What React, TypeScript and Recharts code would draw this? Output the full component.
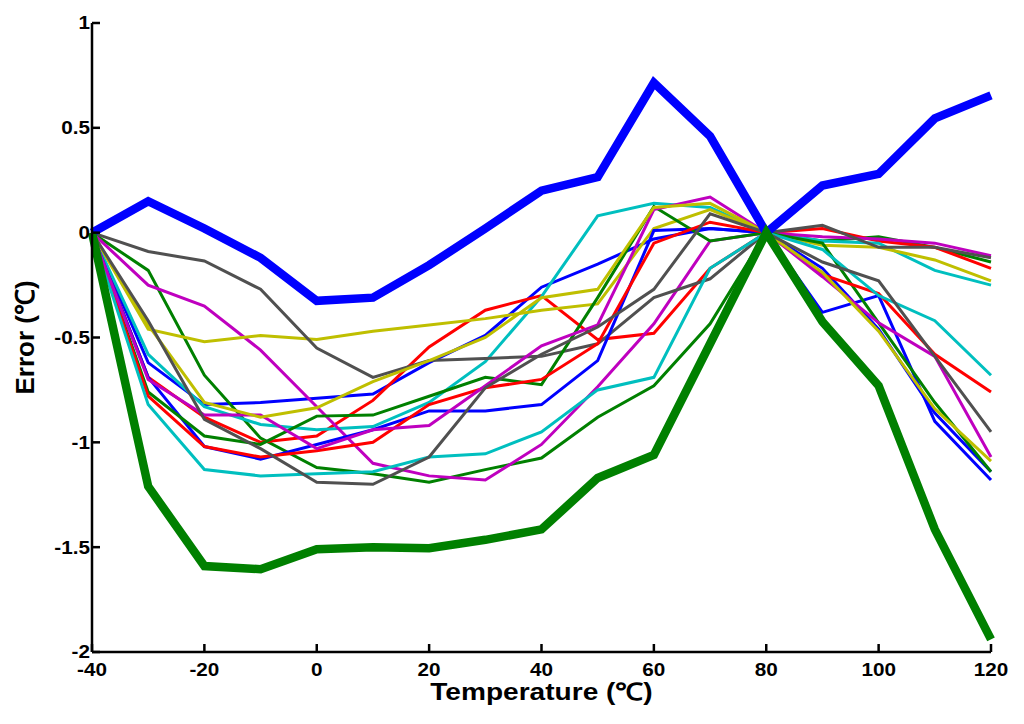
import React from 'react';
import { Label, Line, LineChart, XAxis, YAxis } from 'recharts';

// temperature grid of the test points
const TEMPS = [-40, -30, -20, -10, 0, 10, 20, 30, 40, 50, 60, 70, 80, 90, 100, 110, 120];
const X_TICKS = [-40, -20, 0, 20, 40, 60, 80, 100, 120];
const Y_TICKS = [-2, -1.5, -1, -0.5, 0, 0.5, 1];

// thin curves, two per colour
const BLUE_1 = [0, -0.62, -0.82, -0.81, -0.79, -0.77, -0.62, -0.49, -0.26, -0.15, -0.03, 0.02, 0, -0.38, -0.3, -0.9, -1.18];
const BLUE_2 = [0, -0.69, -1.02, -1.08, -1.01, -0.94, -0.85, -0.85, -0.82, -0.61, 0.01, 0.02, 0, -0.17, -0.46, -0.86, -1.14];
const GREEN_1 = [0, -0.18, -0.68, -0.98, -1.12, -1.15, -1.19, -1.13, -1.075, -0.88, -0.73, -0.435, 0, -0.04, -0.02, -0.07, -0.14];
const GREEN_2 = [0, -0.76, -0.97, -1.01, -0.875, -0.87, -0.78, -0.69, -0.725, -0.31, 0.125, -0.04, 0, -0.05, -0.43, -0.81, -1.14];
const RED_1 = [0, -0.69, -0.88, -1.0, -0.97, -0.8, -0.545, -0.37, -0.3, -0.51, -0.48, -0.17, 0, 0.02, -0.04, -0.07, -0.17];
const RED_2 = [0, -0.78, -1.02, -1.07, -1.04, -1.0, -0.82, -0.74, -0.7, -0.53, -0.05, 0.05, 0, -0.2, -0.29, -0.58, -0.76];
const CYAN_1 = [0, -0.58, -0.83, -0.915, -0.94, -0.925, -0.81, -0.615, -0.305, 0.08, 0.14, 0.12, 0, -0.04, -0.05, -0.18, -0.25];
const CYAN_2 = [0, -0.82, -1.13, -1.16, -1.15, -1.14, -1.07, -1.055, -0.95, -0.75, -0.69, -0.17, 0, -0.08, -0.3, -0.42, -0.68];
const MAGENTA_1 = [0, -0.25, -0.35, -0.56, -0.83, -1.1, -1.16, -1.18, -1.01, -0.735, -0.435, -0.04, 0, -0.02, -0.03, -0.05, -0.11];
const MAGENTA_2 = [0, -0.7, -0.87, -0.87, -1.03, -0.94, -0.92, -0.73, -0.54, -0.44, 0.11, 0.17, 0, -0.21, -0.43, -0.59, -1.07];
const YELLOW_1 = [0, -0.46, -0.52, -0.49, -0.51, -0.47, -0.44, -0.41, -0.37, -0.34, 0.02, 0.11, 0, -0.06, -0.07, -0.13, -0.23];
const YELLOW_2 = [0, -0.44, -0.81, -0.88, -0.835, -0.71, -0.61, -0.5, -0.31, -0.27, 0.12, 0.14, 0, -0.19, -0.47, -0.84, -1.09];
const GRAY_1 = [0, -0.09, -0.135, -0.27, -0.55, -0.69, -0.61, -0.6, -0.59, -0.53, -0.31, -0.22, 0, 0.035, -0.07, -0.07, -0.12];
const GRAY_2 = [0, -0.42, -0.89, -1.03, -1.19, -1.2, -1.07, -0.74, -0.58, -0.45, -0.27, 0.09, 0, -0.14, -0.23, -0.59, -0.95];

// the two bold curves
const THICK_BLUE = [0, 0.15, 0.02, -0.12, -0.325, -0.31, -0.155, 0.02, 0.2, 0.265, 0.715, 0.46, 0, 0.225, 0.28, 0.545, 0.655];
const THICK_GREEN = [0, -1.21, -1.59, -1.605, -1.51, -1.5, -1.505, -1.465, -1.415, -1.17, -1.06, -0.53, 0, -0.425, -0.73, -1.415, -1.94];

const THIN = 3;
const THICK = 8.5;

const SERIES = [
  { key: 'b1', color: '#0000ff', values: BLUE_1, width: THIN },
  { key: 'g1', color: '#008000', values: GREEN_1, width: THIN },
  { key: 'r1', color: '#ff0000', values: RED_1, width: THIN },
  { key: 'c1', color: '#00bfbf', values: CYAN_1, width: THIN },
  { key: 'm1', color: '#bf00bf', values: MAGENTA_1, width: THIN },
  { key: 'y1', color: '#bfbf00', values: YELLOW_1, width: THIN },
  { key: 'k1', color: '#505050', values: GRAY_1, width: THIN },
  { key: 'b2', color: '#0000ff', values: BLUE_2, width: THIN },
  { key: 'g2', color: '#008000', values: GREEN_2, width: THIN },
  { key: 'r2', color: '#ff0000', values: RED_2, width: THIN },
  { key: 'c2', color: '#00bfbf', values: CYAN_2, width: THIN },
  { key: 'm2', color: '#bf00bf', values: MAGENTA_2, width: THIN },
  { key: 'y2', color: '#bfbf00', values: YELLOW_2, width: THIN },
  { key: 'k2', color: '#505050', values: GRAY_2, width: THIN },
  { key: 'tb', color: '#0000ff', values: THICK_BLUE, width: THICK },
  { key: 'tg', color: '#008000', values: THICK_GREEN, width: THICK },
];

const data = TEMPS.map((t, i) => {
  const row: Record<string, number> = { t };
  SERIES.forEach((s) => {
    row[s.key] = s.values[i];
  });
  return row;
});

const FONT = '"Liberation Sans", Arial, sans-serif';
const axisLine = { stroke: '#000', strokeWidth: 2.5 };
const tickLine = { stroke: '#000', strokeWidth: 2.5 };

// the original figure is a little wider than tall, so text is stretched sideways
const StretchTick = ({ x, y, payload, textAnchor, dy }: any) => (
  <text
    transform={`translate(${x},${y}) scale(1.15,1)`}
    textAnchor={textAnchor}
    dy={dy}
    fill="#000"
    fontSize={18}
    fontWeight="bold"
    fontFamily={FONT}
  >
    {payload.value}
  </text>
);

const XTitle = ({ viewBox }: any) => (
  <text
    transform={`translate(${viewBox.x + viewBox.width / 2},${viewBox.y + viewBox.height - 24}) scale(1.17,1)`}
    textAnchor="middle"
    fill="#000"
    fontSize={24}
    fontWeight="bold"
    fontFamily={FONT}
  >
    Temperature (℃)
  </text>
);

export default function App() {
  return (
    <LineChart
      width={1016}
      height={716}
      data={data}
      margin={{ top: 15, right: 33, left: 0, bottom: 0 }}
    >
      <XAxis
        dataKey="t"
        type="number"
        domain={[-40, 120]}
        ticks={X_TICKS}
        interval={0}
        height={72}
        tick={<StretchTick dy="0.71em" />}
        tickSize={-8}
        tickMargin={19}
        axisLine={axisLine}
        tickLine={tickLine}
      >
        <Label content={<XTitle />} />
      </XAxis>
      <XAxis
        xAxisId="top"
        orientation="top"
        dataKey="t"
        type="number"
        domain={[-40, 120]}
        ticks={X_TICKS}
        interval={0}
        height={0}
        tick={false}
        tickSize={-8}
        axisLine={axisLine}
        tickLine={tickLine}
      />
      <YAxis
        type="number"
        domain={[-2, 1]}
        ticks={Y_TICKS}
        interval={0}
        width={84}
        tick={<StretchTick dy="0.355em" />}
        tickSize={-8}
        tickMargin={10}
        axisLine={axisLine}
        tickLine={tickLine}
      >
        <Label
          value="Error (℃)"
          angle={-90}
          position="insideLeft"
          offset={17}
          style={{ fill: '#000', fontSize: 26, fontWeight: 'bold', fontFamily: FONT, textAnchor: 'middle' }}
        />
      </YAxis>
      <YAxis
        yAxisId="right"
        orientation="right"
        type="number"
        domain={[-2, 1]}
        ticks={Y_TICKS}
        interval={0}
        width={0}
        tick={false}
        tickSize={-8}
        axisLine={axisLine}
        tickLine={tickLine}
      />
      {SERIES.map((s) => (
        <Line
          key={s.key}
          dataKey={s.key}
          type="linear"
          stroke={s.color}
          strokeWidth={s.width}
          dot={false}
          activeDot={false}
          isAnimationActive={false}
        />
      ))}
    </LineChart>
  );
}
